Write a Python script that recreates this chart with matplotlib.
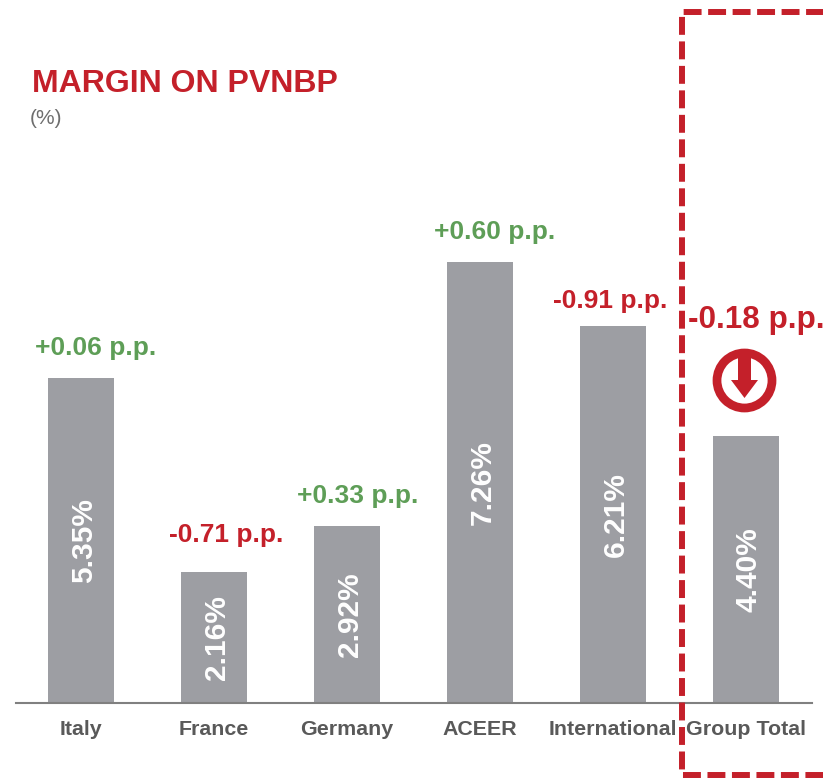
import matplotlib
matplotlib.use("Agg")
import matplotlib.pyplot as plt
from matplotlib.lines import Line2D
from matplotlib.patches import Polygon

plt.rcParams['font.family'] = ['Liberation Sans', 'DejaVu Sans']

categories = ['Italy', 'France', 'Germany', 'ACEER', 'International', 'Group Total']
margins = [5.35, 2.16, 2.92, 7.26, 6.21, 4.40]
deltas = ['+0.06 p.p.', '-0.71 p.p.', '+0.33 p.p.', '+0.60 p.p.', '-0.91 p.p.', '-0.18 p.p.']

# label placement, pixels from the bar centre / bar top
delta_dx = [15, 12, 11, 15, -3, 10]
delta_dy = [30, 37, 30, 30, 25, 116]
delta_size = [19, 19, 19, 19, 19, 22.6]

W, H = 823, 778
RED = '#c4202a'
GREEN = '#5e9e57'
GREY = '#9d9ea3'
DARK = '#595959'


def fx(x):
    return x / W


def fy(y):
    return 1 - y / H


fig = plt.figure(figsize=(W / 100, H / 100), dpi=100)
ax = fig.add_axes([fx(16), fy(703), fx(812 - 16), 703 / H])
ax.patch.set_visible(False)

pos = list(range(len(categories)))
ax.bar(pos, margins, width=0.5, color=GREY, zorder=2)
ax.set_xlim(-0.489, 5.496)
ax.set_ylim(0, 703 / 60.7)

for s in ['top', 'left', 'right']:
    ax.spines[s].set_visible(False)
ax.spines['bottom'].set_color('#808080')
ax.spines['bottom'].set_linewidth(1.5)
ax.set_yticks([])
ax.set_xticks(pos)
ax.set_xticklabels(categories, fontsize=15.4, fontweight='bold', color=DARK)
ax.tick_params(axis='x', length=0, pad=12.5)

for i, m in enumerate(margins):
    ax.annotate('%.2f%%' % m, (i, m / 2), xytext=(2, 0), textcoords='offset points',
                rotation=90, ha='center', va='center',
                color='white', fontsize=21.5, fontweight='bold', zorder=3)
    c = GREEN if deltas[i].startswith('+') else RED
    ax.annotate(deltas[i], (i, m), xytext=(delta_dx[i] * 0.72, delta_dy[i] * 0.72),
                textcoords='offset points', ha='center', va='center',
                color=c, fontsize=delta_size[i], fontweight='bold', zorder=5)

fig.text(fx(32), fy(84), 'MARGIN ON PVNBP', color=RED, fontsize=23,
         fontweight='bold', ha='left', va='center')
fig.text(fx(30), fy(118), '(%)', color='#6e6e6e', fontsize=15, ha='left', va='center')

# dashed highlight box around the group total
box = Line2D([fx(830), fx(682), fx(682), fx(830)], [fy(12), fy(12), fy(775), fy(775)],
             transform=fig.transFigure, color=RED, lw=4.3, dashes=(3, 1.1), zorder=6)
fig.add_artist(box)

# down arrow in a ring above the last bar
ring = Line2D([fx(744)], [fy(380)], transform=fig.transFigure, marker='o', ms=39.6,
              mfc='none', mec=RED, mew=6.3, ls='none')
fig.add_artist(ring)
arrow = [(738, 355), (751, 355), (751, 380), (758, 380), (744.5, 398), (731, 380), (738, 380)]
fig.add_artist(Polygon([(fx(a), fy(b)) for a, b in arrow], closed=True,
                       transform=fig.transFigure, fc=RED, ec='none'))

fig.savefig('out.png', dpi=100)
